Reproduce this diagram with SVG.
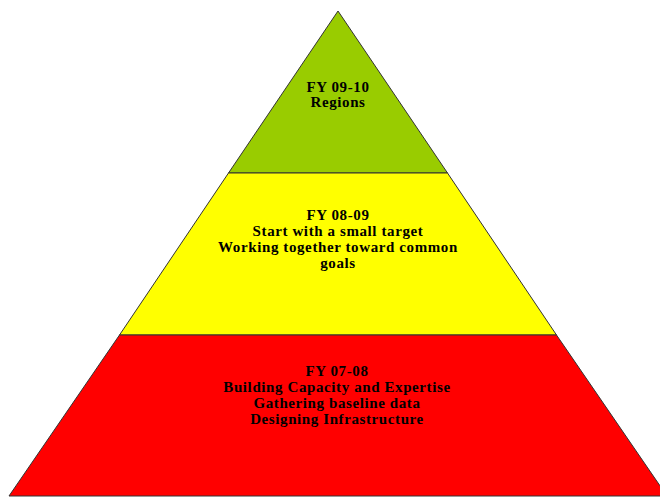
<svg xmlns="http://www.w3.org/2000/svg" width="660" height="498" viewBox="0 0 660 498">
<style>
.tier{stroke:#333;stroke-width:1}
.lbl{font-family:"Liberation Serif","Times New Roman",serif;font-weight:bold;font-size:15px;letter-spacing:0.6px;fill:#000;text-anchor:middle}
</style>
<rect width="660" height="498" fill="#fff"/>
<g id="tier-top">
<polygon class="tier" fill="#99CC00" points="338,11 447.5,173 228.5,173"/>
<text class="lbl" x="338" y="92">FY 09-10</text>
<text class="lbl" x="338" y="107">Regions</text>
</g>
<g id="tier-middle">
<polygon class="tier" fill="#FFFF00" points="228.5,173 447.5,173 556.5,335 119.5,335"/>
<text class="lbl" x="338" y="220">FY 08-09</text>
<text class="lbl" x="338" y="236">Start with a small target</text>
<text class="lbl" x="338" y="252">Working together toward common</text>
<text class="lbl" x="338" y="268">goals</text>
</g>
<g id="tier-bottom">
<polygon class="tier" fill="#FF0000" points="119.5,335 556.5,335 667,496 9,496"/>
<text class="lbl" x="337" y="376">FY 07-08</text>
<text class="lbl" x="337" y="392">Building Capacity and Expertise</text>
<text class="lbl" x="337" y="408">Gathering baseline data</text>
<text class="lbl" x="337" y="424">Designing Infrastructure</text>
</g>
<g id="connectors"></g>
</svg>
